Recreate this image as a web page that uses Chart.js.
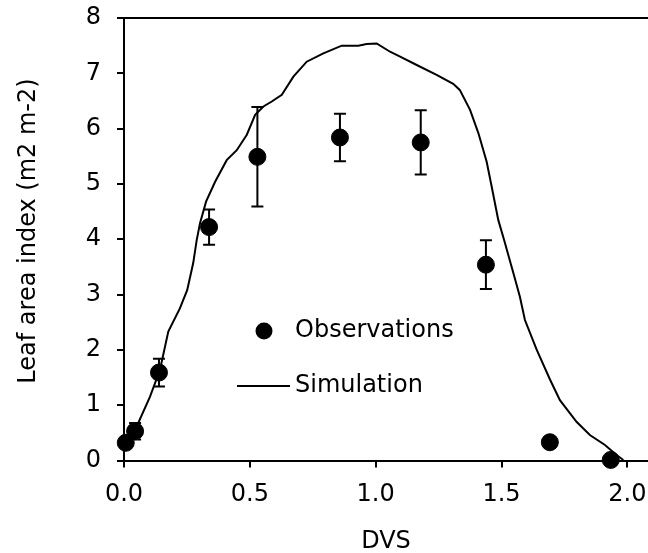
<!DOCTYPE html>
<html>
<head>
<meta charset="utf-8">
<title>LAI vs DVS</title>
<script src="https://cdn.jsdelivr.net/npm/chart.js@4.4.0/dist/chart.umd.min.js"></script>
<style>
    body { margin: 0; background: #fff; }
    #container-canvas { width: 648px; height: 553px; }
</style>
</head>
<body>
<div id="container-canvas">
    <canvas id="laiChart" width="648" height="553"></canvas>
</div>
<script>
// observed LAI with standard deviation
const obsDvs = [0.007, 0.044, 0.139, 0.338, 0.530, 0.858, 1.179, 1.438, 1.692, 1.934]
const obsLai = [0.32, 0.53, 1.59, 4.22, 5.49, 5.84, 5.75, 3.54, 0.33, 0.01]
const obsErr = [0.08, 0.15, 0.25, 0.32, 0.90, 0.43, 0.58, 0.44, 0.08, 0.01]

// simulated LAI
const simDvs = [0.000, 0.020, 0.050, 0.103, 0.143, 0.176, 0.222, 0.251, 0.275, 0.289,
    0.302, 0.326, 0.362, 0.408, 0.448, 0.488, 0.521, 0.554, 0.587, 0.627,
    0.673, 0.726, 0.792, 0.865, 0.931, 0.964, 1.004, 1.057, 1.097, 1.163,
    1.242, 1.308, 1.334, 1.375, 1.408, 1.441, 1.461, 1.487, 1.510, 1.547,
    1.573, 1.593, 1.640, 1.693, 1.732, 1.798, 1.851, 1.911, 1.957, 1.984]
const simLai = [0.30, 0.40, 0.61, 1.15, 1.64, 2.33, 2.75, 3.08, 3.57, 3.99,
    4.29, 4.68, 5.04, 5.43, 5.61, 5.89, 6.25, 6.40, 6.49, 6.61,
    6.94, 7.21, 7.36, 7.50, 7.50, 7.53, 7.54, 7.39, 7.30, 7.15,
    6.97, 6.81, 6.70, 6.34, 5.92, 5.40, 4.95, 4.35, 3.99, 3.39,
    2.96, 2.54, 2.00, 1.46, 1.09, 0.70, 0.46, 0.28, 0.10, 0.01]

const xTicks = [0, 0.5, 1.0, 1.5, 2.0]
const xTitle = 'DVS'
const yTitle = 'Leaf area index (m2 m-2)'
const obsLabel = 'Observations'
const simLabel = 'Simulation'

const FONT = 'DejaVu Sans, Verdana, sans-serif'

const errorBars = {
    id: 'errorBars',
    afterDatasetsDraw(chart) {
        const { ctx, scales: { x, y } } = chart
        ctx.save()
        ctx.strokeStyle = '#000'
        ctx.lineWidth = 2
        obsDvs.forEach((d, i) => {
            const px = x.getPixelForValue(d)
            const top = y.getPixelForValue(obsLai[i] + obsErr[i])
            const bot = y.getPixelForValue(obsLai[i] - obsErr[i])
            ctx.beginPath()
            ctx.moveTo(px, top)
            ctx.lineTo(px, bot)
            ctx.moveTo(px - 6, top)
            ctx.lineTo(px + 6, top)
            ctx.moveTo(px - 6, bot)
            ctx.lineTo(px + 6, bot)
            ctx.stroke()
        })
        ctx.restore()
    }
}

// axis titles and the legend, placed by hand
const annotations = {
    id: 'annotations',
    afterDraw(chart) {
        const ctx = chart.ctx
        ctx.save()
        ctx.fillStyle = '#000'
        ctx.strokeStyle = '#000'
        ctx.font = '24px ' + FONT

        ctx.textAlign = 'center'
        ctx.textBaseline = 'alphabetic'
        ctx.fillText(xTitle, 386, 548)

        ctx.save()
        ctx.translate(35, 231)
        ctx.rotate(-Math.PI / 2)
        ctx.fillText(yTitle, 0, 0)
        ctx.restore()

        ctx.beginPath()
        ctx.arc(264, 331, 8.5, 0, Math.PI * 2)
        ctx.fill()
        ctx.lineWidth = 2
        ctx.beginPath()
        ctx.moveTo(237, 386)
        ctx.lineTo(290, 386)
        ctx.stroke()
        ctx.textBaseline = 'middle'
        ctx.textAlign = 'left'
        ctx.fillText(obsLabel, 295, 331)
        ctx.fillText(simLabel, 295, 386)
        ctx.restore()
    }
}

const ctx = document.getElementById('laiChart')
new Chart(ctx, {
    type: 'scatter',
    data: {
        datasets: [
            {
                label: simLabel,
                data: simDvs.map((d, i) => ({ x: d, y: simLai[i] })),
                showLine: true,
                borderColor: '#000',
                borderWidth: 2,
                pointRadius: 0,
                tension: 0,
                clip: false
            },
            {
                label: obsLabel,
                data: obsDvs.map((d, i) => ({ x: d, y: obsLai[i] })),
                backgroundColor: '#000',
                borderColor: '#000',
                pointRadius: 8.5,
                pointHoverRadius: 8.5,
                clip: false
            }
        ]
    },
    plugins: [errorBars, annotations],
    options: {
        responsive: false,
        animation: false,
        layout: { padding: 0, autoPadding: false },
        plugins: {
            legend: { display: false },
            tooltip: { enabled: false }
        },
        scales: {
            x: {
                type: 'linear',
                position: 'bottom',
                min: 0,
                max: 2.082,
                ticks: {
                    color: '#000',
                    padding: 13,
                    font: { family: FONT, size: 24 },
                    callback: (v) => v.toFixed(1)
                },
                afterBuildTicks: (scale) => {
                    scale.ticks = xTicks.map(v => ({ value: v }))
                },
                afterFit: (scale) => {
                    scale.height = 92.5
                    scale.paddingLeft = 0
                    scale.paddingRight = 0
                },
                grid: {
                    drawOnChartArea: false,
                    color: '#000',
                    lineWidth: 2,
                    tickLength: 7
                },
                border: { color: '#000', width: 2 }
            },
            xTop: {
                type: 'linear',
                position: 'top',
                min: 0,
                max: 2.082,
                ticks: { display: false },
                grid: { display: false },
                border: { color: '#000', width: 2 },
                afterFit: (scale) => {
                    scale.height = 18
                    scale.paddingLeft = 0
                    scale.paddingRight = 0
                }
            },
            y: {
                min: 0,
                max: 8,
                ticks: {
                    stepSize: 1,
                    color: '#000',
                    padding: 16,
                    font: { family: FONT, size: 24 }
                },
                afterFit: (scale) => {
                    scale.width = 124
                    scale.paddingTop = 0
                    scale.paddingBottom = 0
                },
                grid: {
                    drawOnChartArea: false,
                    color: '#000',
                    lineWidth: 2,
                    tickLength: 7
                },
                border: { color: '#000', width: 2 }
            }
        }
    }
})
</script>
</body>
</html>
